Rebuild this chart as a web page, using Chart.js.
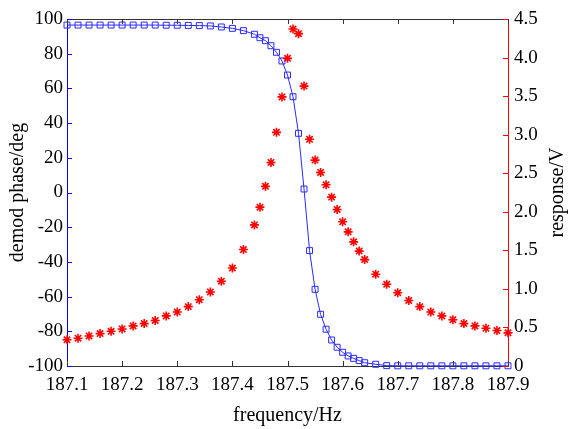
<!DOCTYPE html>
<html lang="en">
<head>
    <meta charset="UTF-8">
    <title>Demod phase and response</title>
    <script src="https://cdn.jsdelivr.net/npm/chart.js"></script>
    <style>
        html, body { margin: 0; padding: 0; background: #fff; }
    </style>
</head>
<body>
    <canvas id="myChart" width="571" height="429"></canvas>

    <script>
        const freq = [187.10, 187.12, 187.14, 187.16, 187.18, 187.20, 187.22, 187.24, 187.26, 187.28,
            187.30, 187.32, 187.34, 187.36, 187.38, 187.40, 187.42, 187.44, 187.45, 187.46,
            187.47, 187.48, 187.49, 187.50, 187.51, 187.52, 187.53, 187.54, 187.55, 187.56,
            187.57, 187.58, 187.59, 187.60, 187.61, 187.62, 187.63, 187.64, 187.66, 187.68,
            187.70, 187.72, 187.74, 187.76, 187.78, 187.80, 187.82, 187.84, 187.86, 187.88, 187.90];

        const phase = [96.5, 96.5, 96.5, 96.5, 96.5, 96.5, 96.5, 96.5, 96.5, 96.4,
            96.4, 96.3, 96.2, 96.0, 95.4, 94.6, 93.3, 91.2, 89.2, 87.5,
            84.6, 80.8, 75.8, 67.7, 55.2, 34.1, 2.0, -33.5, -55.8, -70.2,
            -78.8, -85.0, -89.2, -92.1, -94.2, -95.6, -96.9, -98.1, -99.0, -99.8,
            -99.9, -99.9, -99.9, -99.9, -99.9, -99.9, -99.9, -99.9, -99.9, -99.9, -99.9];

        const response = [0.34, 0.36, 0.39, 0.42, 0.45, 0.48, 0.52, 0.55, 0.59, 0.65,
            0.70, 0.77, 0.86, 0.96, 1.10, 1.27, 1.51, 1.83, 2.06, 2.33,
            2.64, 3.03, 3.49, 3.99, 4.37, 4.31, 3.63, 2.94, 2.67, 2.51,
            2.35, 2.19, 2.03, 1.87, 1.74, 1.61, 1.49, 1.38, 1.19, 1.06,
            0.95, 0.85, 0.77, 0.70, 0.65, 0.60, 0.55, 0.52, 0.49, 0.46, 0.43];

        const xTicks = [187.1, 187.2, 187.3, 187.4, 187.5, 187.6, 187.7, 187.8, 187.9];
        const phaseTicks = [100, 80, 60, 40, 20, 0, -20, -40, -60, -80, -100];
        const responseTicks = [4.5, 4.0, 3.5, 3.0, 2.5, 2.0, 1.5, 1.0, 0.5, 0];

        const fontFamily = '"Liberation Serif", "Times New Roman", serif';
        const titleFont = { size: 20 };
        Chart.defaults.font.family = fontFamily;
        Chart.defaults.font.size = 19;
        Chart.defaults.color = '#000';

        // matlab style: ticks point into the plot, box line on top,
        // and the right ylabel reads bottom-to-top like the left one
        const innerTicks = {
            id: 'innerTicks',
            afterDraw(chart) {
                const {ctx, chartArea, scales} = chart;
                const len = 5;
                ctx.save();
                ctx.lineWidth = 1;

                ctx.strokeStyle = '#333';
                ctx.beginPath();
                ctx.moveTo(chartArea.left, chartArea.top + 0.5);
                ctx.lineTo(chartArea.right, chartArea.top + 0.5);
                xTicks.forEach(v => {
                    const px = Math.round(scales.x.getPixelForValue(v)) + 0.5;
                    ctx.moveTo(px, chartArea.bottom);
                    ctx.lineTo(px, chartArea.bottom - len);
                    ctx.moveTo(px, chartArea.top);
                    ctx.lineTo(px, chartArea.top + len);
                });
                ctx.stroke();

                ctx.strokeStyle = '#0000ff';
                ctx.beginPath();
                phaseTicks.forEach(v => {
                    const py = Math.round(scales.y.getPixelForValue(v)) + 0.5;
                    ctx.moveTo(chartArea.left, py);
                    ctx.lineTo(chartArea.left + len, py);
                });
                ctx.stroke();

                ctx.strokeStyle = '#ff0000';
                ctx.beginPath();
                responseTicks.forEach(v => {
                    const py = Math.round(scales.y1.getPixelForValue(v)) + 0.5;
                    ctx.moveTo(chartArea.right, py);
                    ctx.lineTo(chartArea.right - len, py);
                });
                ctx.stroke();

                ctx.translate(558, (chartArea.top + chartArea.bottom) / 2);
                ctx.rotate(-Math.PI / 2);
                ctx.font = titleFont.size + 'px ' + fontFamily;
                ctx.fillStyle = '#000';
                ctx.textAlign = 'center';
                ctx.textBaseline = 'middle';
                ctx.fillText('response/V', 0, 0);
                ctx.restore();
            }
        };

        new Chart(document.getElementById('myChart'), {
            type: 'scatter',
            data: {
                datasets: [{
                    label: 'response',
                    data: freq.map((f, i) => ({x: f, y: response[i]})),
                    yAxisID: 'y1',
                    showLine: false,
                    pointStyle: 'star',
                    pointRadius: 4.5,
                    borderWidth: 1.6,
                    borderColor: '#ff0000',
                    backgroundColor: '#ff0000',
                    clip: false
                }, {
                    label: 'phase',
                    data: freq.map((f, i) => ({x: f, y: phase[i]})),
                    yAxisID: 'y',
                    showLine: true,
                    tension: 0,
                    borderWidth: 1,
                    borderColor: '#2a2aff',
                    pointStyle: 'rect',
                    pointRadius: 4.2,
                    pointBorderWidth: 1,
                    pointBorderColor: '#2a2aff',
                    pointBackgroundColor: 'rgba(0,0,0,0)',
                    clip: false
                }]
            },
            options: {
                responsive: false,
                animation: false,
                events: [],
                layout: { padding: { top: 19, left: 0, right: 0, bottom: 0 } },
                plugins: {
                    legend: { display: false },
                    tooltip: { enabled: false }
                },
                scales: {
                    x: {
                        type: 'linear',
                        position: 'bottom',
                        min: 187.1,
                        max: 187.9,
                        afterFit: s => { s.height = 63; },
                        afterBuildTicks: s => { s.ticks = xTicks.map(v => ({value: v})); },
                        ticks: { padding: 8, callback: v => v.toFixed(1), maxRotation: 0, autoSkip: false },
                        grid: { display: false, drawTicks: false },
                        border: { color: '#333', width: 1 },
                        title: { display: true, text: 'frequency/Hz', font: titleFont, padding: { top: 0, bottom: 1 } }
                    },
                    y: {
                        type: 'linear',
                        position: 'left',
                        min: -100,
                        max: 100,
                        afterFit: s => { s.width = 67; },
                        afterBuildTicks: s => { s.ticks = phaseTicks.map(v => ({value: v})); },
                        ticks: { padding: 4, callback: v => String(v) },
                        grid: { display: false, drawTicks: false },
                        border: { color: '#0000ff', width: 1 },
                        title: { display: true, text: 'demod phase/deg', font: titleFont, padding: { top: 6, bottom: 0 } }
                    },
                    y1: {
                        type: 'linear',
                        position: 'right',
                        min: 0,
                        max: 4.5,
                        afterFit: s => { s.width = 63; },
                        afterBuildTicks: s => { s.ticks = responseTicks.map(v => ({value: v})); },
                        ticks: { padding: 6, callback: v => v === 0 ? '0' : v.toFixed(1) },
                        grid: { display: false, drawTicks: false },
                        border: { color: '#ff0000', width: 1 },
                        title: { display: false }
                    }
                }
            },
            plugins: [innerTicks]
        });
    </script>
</body>
</html>
